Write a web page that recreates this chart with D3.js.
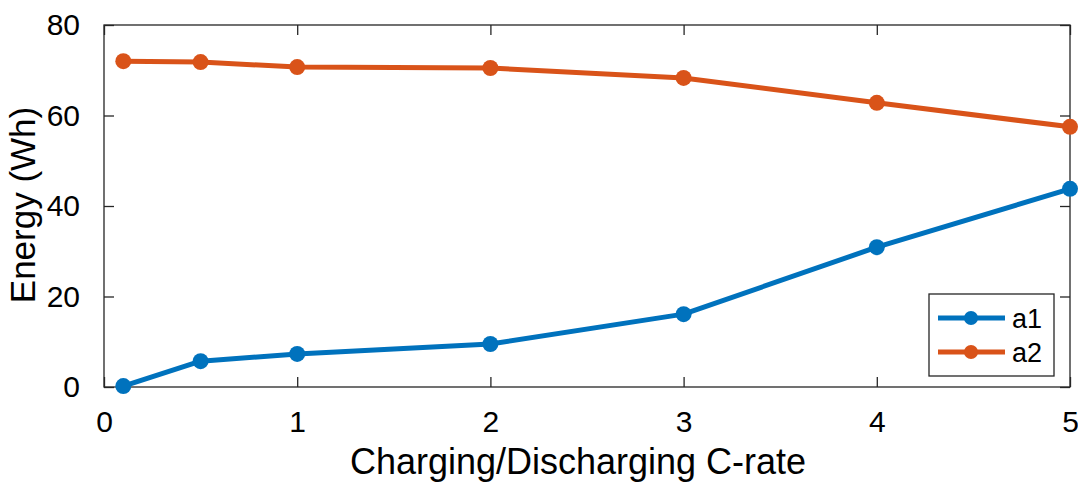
<!DOCTYPE html>
<html><head><meta charset="utf-8">
<script src="https://cdn.jsdelivr.net/npm/d3@7"></script>
<style>body{margin:0;background:#fff}svg{display:block}text{font-family:"Liberation Sans",Arial,sans-serif;fill:#000}</style>
</head><body><svg id="c" width="1078" height="484"></svg>
<script>
const xValues = [0.1, 0.5, 1, 2, 3, 4, 5];
const a1 = [0.2, 5.7, 7.3, 9.5, 16.1, 30.9, 43.8];
const a2 = [72.0, 71.8, 70.7, 70.5, 68.3, 62.8, 57.5];
const seriesNames = ["a1", "a2"];
const colors = ["#0072BD", "#D95319"];
const xTicks = [0, 1, 2, 3, 4, 5];
const yTicks = [0, 20, 40, 60, 80];

const svg = d3.select("#c");
const L = 104, R = 1070, T = 25, B = 387;
const x = d3.scaleLinear().domain([0, 5]).range([L, R]);
const y = d3.scaleLinear().domain([0, 80]).range([B, T]);

const axisCol = "#262626";
svg.append("rect").attr("x", L).attr("y", T).attr("width", R - L).attr("height", B - T)
  .attr("fill", "none").attr("stroke", axisCol).attr("stroke-width", 1.3);

const tl = 10;
const xa = svg.append("g").attr("transform", `translate(0,${B})`)
  .call(d3.axisBottom(x).tickValues(xTicks).tickSize(-tl).tickPadding(tl + 14).tickFormat(d3.format("d")));
const xt = svg.append("g").attr("transform", `translate(0,${T})`)
  .call(d3.axisTop(x).tickValues(xTicks).tickSize(-tl).tickFormat(""));
const ya = svg.append("g").attr("transform", `translate(${L},0)`)
  .call(d3.axisLeft(y).tickValues(yTicks).tickSize(-tl).tickPadding(tl + 14).tickFormat(d3.format("d")));
const yr = svg.append("g").attr("transform", `translate(${R},0)`)
  .call(d3.axisRight(y).tickValues(yTicks).tickSize(-tl).tickFormat(""));
[xa, xt, ya, yr].forEach(g => {
  g.select(".domain").remove();
  g.selectAll("line").attr("stroke", axisCol).attr("stroke-width", 1.3);
  g.selectAll("text").attr("font-size", 30).attr("fill", "#000")
    .style("font-family", '"Liberation Sans",Arial,sans-serif');
});

svg.append("text").attr("x", 578).attr("y", 474).attr("text-anchor", "middle")
  .attr("font-size", 36).text("Charging/Discharging C-rate");
svg.append("text").attr("transform", `translate(35,205) rotate(-90)`)
  .attr("text-anchor", "middle").attr("font-size", 35).text("Energy (Wh)");

const line = d3.line().x((d, i) => x(xValues[i])).y(d => y(d));
[a1, a2].forEach((s, k) => {
  svg.append("path").datum(s).attr("d", line).attr("fill", "none")
    .attr("stroke", colors[k]).attr("stroke-width", 5).attr("stroke-linejoin", "round");
  svg.append("g").selectAll("circle").data(s).join("circle")
    .attr("cx", (d, i) => x(xValues[i])).attr("cy", d => y(d)).attr("r", 8)
    .attr("fill", colors[k]);
});

const lg = svg.append("g");
lg.append("rect").attr("x", 929).attr("y", 294).attr("width", 125).attr("height", 82)
  .attr("fill", "#fff").attr("stroke", axisCol).attr("stroke-width", 1.3);
seriesNames.forEach((n, k) => {
  const yy = 318 + k * 34;
  lg.append("line").attr("x1", 938).attr("x2", 1005).attr("y1", yy).attr("y2", yy)
    .attr("stroke", colors[k]).attr("stroke-width", 5);
  lg.append("circle").attr("cx", 971).attr("cy", yy).attr("r", 7).attr("fill", colors[k]);
  lg.append("text").attr("x", 1012).attr("y", yy + 10).attr("font-size", 27).text(n);
});
</script></body></html>
